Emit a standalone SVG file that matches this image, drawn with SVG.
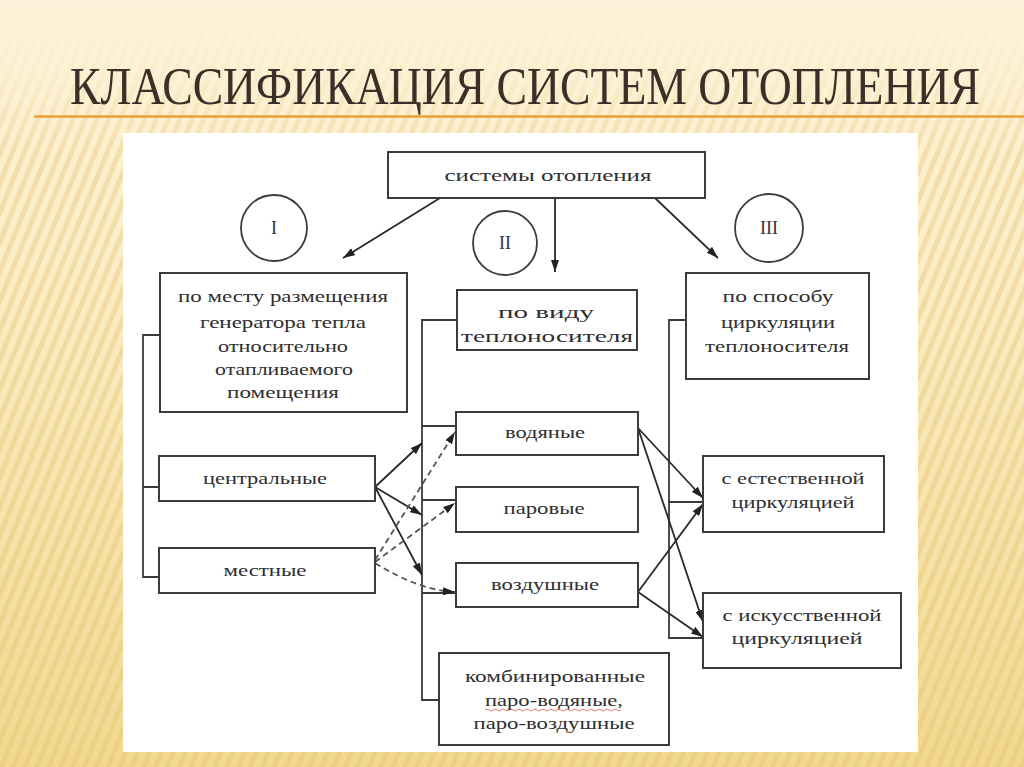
<svg xmlns="http://www.w3.org/2000/svg" width="1024" height="767" viewBox="0 0 1024 767">
  <defs>
    <linearGradient id="bg" x1="0" y1="0" x2="0" y2="1">
      <stop offset="0" stop-color="#fdf3da"/>
      <stop offset="0.35" stop-color="#fbedc6"/>
      <stop offset="1" stop-color="#f2d890"/>
    </linearGradient>
    <pattern id="stripes" width="11" height="11" patternUnits="userSpaceOnUse" patternTransform="rotate(22)">
      <rect width="5" height="11" fill="#e2c06a" opacity="0.35"/>
    </pattern>
    <linearGradient id="fadeGrad" x1="0" y1="0" x2="0" y2="1">
      <stop offset="0" stop-color="#fff" stop-opacity="0"/>
      <stop offset="0.1" stop-color="#fff" stop-opacity="0.2"/>
      <stop offset="0.2" stop-color="#fff" stop-opacity="1"/>
      <stop offset="1" stop-color="#fff" stop-opacity="1"/>
    </linearGradient>
    <mask id="fade">
      <rect width="1024" height="767" fill="url(#fadeGrad)"/>
    </mask>
    <marker id="ah" viewBox="0 0 12 8" refX="12" refY="4" markerWidth="12" markerHeight="8" orient="auto" markerUnits="userSpaceOnUse">
      <path d="M0,0 L12,4 L0,8 z" fill="#222"/>
    </marker>
    <style>
      .box { fill: #ffffff; stroke: #3c3c3c; stroke-width: 2; }
      .circ { fill: #ffffff; stroke: #3c3c3c; stroke-width: 1.8; }
      .t { font-family: "Liberation Serif", "DejaVu Serif", serif; font-size: 17px; fill: #2e2e2e; text-anchor: middle; }
      .roman { font-family: "Liberation Serif", "DejaVu Serif", serif; font-size: 18px; fill: #333333; text-anchor: middle; }
      .ln { fill: none; stroke: #3a3a3a; stroke-width: 1.8; }
      .arr { fill: none; stroke: #2a2a2a; stroke-width: 1.8; marker-end: url(#ah); }
      .dash { fill: none; stroke: #555555; stroke-width: 1.8; stroke-dasharray: 6 4; marker-end: url(#ah); }
      .title { font-family: "Liberation Serif", "DejaVu Serif", serif; font-size: 44px; fill: #3b2f29; }
    </style>
  </defs>

  <!-- background -->
  <rect width="1024" height="767" fill="url(#bg)"/>
  <rect width="1024" height="767" fill="url(#stripes)" mask="url(#fade)"/>

  <!-- title -->
  <g id="title">
    <text class="title" transform="translate(70,104) scale(1,1.22)" x="0" y="0" textLength="910" lengthAdjust="spacingAndGlyphs">КЛАССИФИКАЦИЯ СИСТЕМ ОТОПЛЕНИЯ</text>
    <line x1="34" y1="116.5" x2="1024" y2="116.5" stroke="#e8a036" stroke-width="2.5"/>
  </g>

  <!-- white panel -->
  <rect x="123" y="133" width="795" height="619" fill="#ffffff"/>

  <!-- connectors -->
  <g id="connectors">
    <line class="arr" x1="440" y1="198" x2="343" y2="258"/>
    <line class="arr" x1="555" y1="198" x2="555" y2="272"/>
    <line class="arr" x1="655" y1="198" x2="718" y2="258"/>

    <path class="ln" d="M160,335 H143 V577 H160 M143,487 H160"/>
    <path class="ln" d="M457,320 H422 V700 H439 M422,426 H456 M422,500 H456 M422,593 H456"/>
    <path class="ln" d="M686,320 H669 V638 H703 M669,502 H703"/>

    <line class="arr" x1="375" y1="487" x2="422" y2="443"/>
    <line class="arr" x1="375" y1="487" x2="422" y2="515"/>
    <line class="arr" x1="375" y1="487" x2="422" y2="575"/>

    <line class="dash" x1="375" y1="560" x2="455" y2="432"/>
    <line class="dash" x1="375" y1="562" x2="455" y2="503"/>
    <path class="dash" d="M375,563 Q418,590 455,592"/>

    <line class="arr" x1="638" y1="428" x2="703" y2="498"/>
    <line class="arr" x1="638" y1="428" x2="703" y2="622"/>
    <line class="arr" x1="638" y1="592" x2="703" y2="504"/>
    <line class="arr" x1="638" y1="592" x2="703" y2="637"/>
  </g>

  <!-- nodes -->
  <g id="n-root">
    <rect class="box" x="388" y="152" width="317" height="46"/>
    <text class="t" x="548" y="181" textLength="207" lengthAdjust="spacingAndGlyphs">системы отопления</text>
  </g>

  <g id="c-1">
    <circle class="circ" cx="274" cy="228" r="33"/>
    <text class="roman" x="274" y="234">I</text>
  </g>
  <g id="c-2">
    <circle class="circ" cx="505" cy="243" r="32"/>
    <text class="roman" x="505" y="249">II</text>
  </g>
  <g id="c-3">
    <circle class="circ" cx="769" cy="228" r="34"/>
    <text class="roman" x="769" y="234">III</text>
  </g>

  <g id="n-place">
    <rect class="box" x="160" y="273" width="247" height="139"/>
    <text class="t" x="283" y="302" textLength="210" lengthAdjust="spacingAndGlyphs">по месту размещения</text>
    <text class="t" x="283" y="328" textLength="166" lengthAdjust="spacingAndGlyphs">генератора тепла</text>
    <text class="t" x="283" y="352" textLength="130" lengthAdjust="spacingAndGlyphs">относительно</text>
    <text class="t" x="284" y="375" textLength="138" lengthAdjust="spacingAndGlyphs">отапливаемого</text>
    <text class="t" x="283" y="398" textLength="112" lengthAdjust="spacingAndGlyphs">помещения</text>
  </g>

  <g id="n-carrier">
    <rect class="box" x="457" y="290" width="180" height="60"/>
    <text class="t" x="546" y="318" textLength="96" lengthAdjust="spacingAndGlyphs">по виду</text>
    <text class="t" x="547" y="342" textLength="172" lengthAdjust="spacingAndGlyphs">теплоносителя</text>
  </g>

  <g id="n-circ">
    <rect class="box" x="686" y="273" width="183" height="106"/>
    <text class="t" x="778" y="302" textLength="111" lengthAdjust="spacingAndGlyphs">по способу</text>
    <text class="t" x="778" y="328" textLength="114" lengthAdjust="spacingAndGlyphs">циркуляции</text>
    <text class="t" x="777" y="352" textLength="144" lengthAdjust="spacingAndGlyphs">теплоносителя</text>
  </g>

  <g id="n-central">
    <rect class="box" x="159" y="456" width="216" height="45"/>
    <text class="t" x="265" y="484" textLength="124" lengthAdjust="spacingAndGlyphs">центральные</text>
  </g>

  <g id="n-local">
    <rect class="box" x="159" y="548" width="216" height="45"/>
    <text class="t" x="265" y="576" textLength="83" lengthAdjust="spacingAndGlyphs">местные</text>
  </g>

  <g id="n-water">
    <rect class="box" x="456" y="412" width="182" height="43"/>
    <text class="t" x="545" y="438" textLength="80" lengthAdjust="spacingAndGlyphs">водяные</text>
  </g>

  <g id="n-steam">
    <rect class="box" x="456" y="487" width="182" height="45"/>
    <text class="t" x="544" y="514" textLength="81" lengthAdjust="spacingAndGlyphs">паровые</text>
  </g>

  <g id="n-air">
    <rect class="box" x="456" y="563" width="182" height="44"/>
    <text class="t" x="545" y="590" textLength="108" lengthAdjust="spacingAndGlyphs">воздушные</text>
  </g>

  <g id="n-combined">
    <rect class="box" x="439" y="653" width="230" height="92"/>
    <text class="t" x="555" y="682" textLength="180" lengthAdjust="spacingAndGlyphs">комбинированные</text>
    <text class="t" x="554" y="706" textLength="138" lengthAdjust="spacingAndGlyphs">паро-водяные,</text>
    <path d="M485,710 q2,-2 4,0 t4,0 t4,0 t4,0 t4,0 t4,0 t4,0 t4,0 t4,0 t4,0 t4,0 t4,0 t4,0 t4,0 t4,0 t4,0 t4,0 t4,0 t4,0 t4,0 t4,0 t4,0 t4,0 t4,0 t4,0 t4,0 t4,0 t4,0 t4,0 t4,0 t4,0 t4,0 t4,0 t4,0" fill="none" stroke="#d04040" stroke-width="1" opacity="0.7"/>
    <text class="t" x="554" y="729" textLength="161" lengthAdjust="spacingAndGlyphs">паро-воздушные</text>
  </g>

  <g id="n-natural">
    <rect class="box" x="703" y="456" width="181" height="76"/>
    <text class="t" x="793" y="484" textLength="143" lengthAdjust="spacingAndGlyphs">с естественной</text>
    <text class="t" x="793" y="508" textLength="123" lengthAdjust="spacingAndGlyphs">циркуляцией</text>
  </g>

  <g id="n-forced">
    <rect class="box" x="703" y="593" width="198" height="75"/>
    <text class="t" x="802" y="621" textLength="159" lengthAdjust="spacingAndGlyphs">с искусственной</text>
    <text class="t" x="797" y="644" textLength="131" lengthAdjust="spacingAndGlyphs">циркуляцией</text>
  </g>
</svg>
